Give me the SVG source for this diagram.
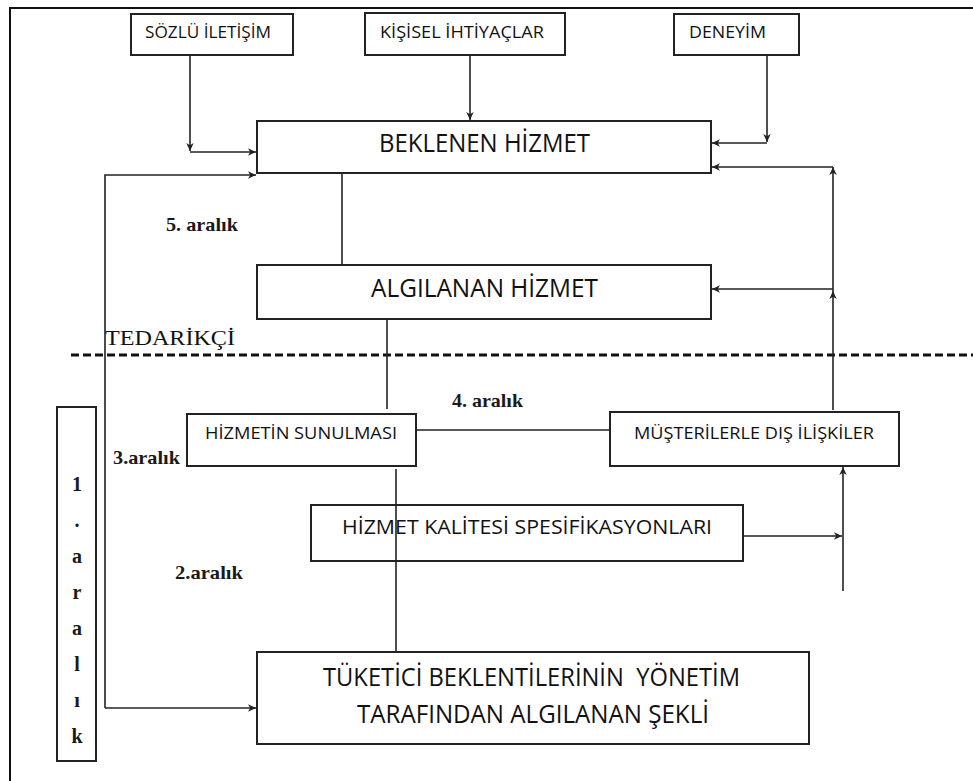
<svg xmlns="http://www.w3.org/2000/svg" width="973" height="781" viewBox="0 0 973 781">
  <style>
    .box { fill: none; stroke: #222; stroke-width: 2; }
    .lbl { font-family: "Open Sans", "Noto Sans", "DejaVu Sans", sans-serif; fill: #111; white-space: pre; }
    .serif { font-family: "Liberation Serif", "Times New Roman", serif; fill: #111; }
    .gap { font-family: "Liberation Serif", "Times New Roman", serif; font-weight: bold; fill: #1a1a1a; }
    .wire { fill: none; stroke: #222; stroke-width: 1.6; }
    .arr { marker-end: url(#head); }
  </style>
  <defs>
    <marker id="head" markerUnits="userSpaceOnUse" markerWidth="9" markerHeight="9" refX="8" refY="4.5" orient="auto">
      <path d="M0,0.8 L8,4.5 L0,8.2 L2.2,4.5 Z" fill="#222"/>
    </marker>
  </defs>

  <rect width="973" height="781" fill="#fff"/>

  <!-- page frame -->
  <path d="M10,781 V8 H973" fill="none" stroke="#111" stroke-width="2"/>

  <!-- supplier boundary -->
  <path d="M71,355 H973" fill="none" stroke="#111" stroke-width="3" stroke-dasharray="8 4"/>
  <text class="serif" x="105" y="345" font-size="22" textLength="130" lengthAdjust="spacingAndGlyphs">TEDARİKÇİ</text>

  <g id="sozlu-iletisim">
    <rect class="box" x="131" y="14" width="162" height="41"/>
    <text class="lbl" x="145" y="38" font-size="16" textLength="126" lengthAdjust="spacingAndGlyphs">SÖZLÜ İLETİŞİM</text>
  </g>
  <g id="kisisel-ihtiyaclar">
    <rect class="box" x="365" y="13" width="200" height="42"/>
    <text class="lbl" x="380" y="38" font-size="16" textLength="164" lengthAdjust="spacingAndGlyphs">KİŞİSEL İHTİYAÇLAR</text>
  </g>
  <g id="deneyim">
    <rect class="box" x="674" y="14" width="125" height="41"/>
    <text class="lbl" x="689" y="38" font-size="16" textLength="77" lengthAdjust="spacingAndGlyphs">DENEYİM</text>
  </g>
  <g id="beklenen-hizmet">
    <rect class="box" x="257" y="121" width="454" height="52"/>
    <text class="lbl" x="379" y="152" font-size="25" textLength="211" lengthAdjust="spacingAndGlyphs">BEKLENEN HİZMET</text>
  </g>
  <g id="algilanan-hizmet">
    <rect class="box" x="257" y="265" width="454" height="54"/>
    <text class="lbl" x="371" y="297" font-size="25" textLength="227" lengthAdjust="spacingAndGlyphs">ALGILANAN HİZMET</text>
  </g>
  <g id="hizmetin-sunulmasi">
    <rect class="box" x="187" y="414" width="229" height="52"/>
    <text class="lbl" x="205" y="439" font-size="16.5" textLength="192" lengthAdjust="spacingAndGlyphs">HİZMETİN SUNULMASI</text>
  </g>
  <g id="musterilerle-dis-iliskiler">
    <rect class="box" x="610" y="412" width="289" height="54"/>
    <text class="lbl" x="634" y="439" font-size="16.5" textLength="240" lengthAdjust="spacingAndGlyphs">MÜŞTERİLERLE DIŞ İLİŞKİLER</text>
  </g>
  <g id="hizmet-kalitesi">
    <rect class="box" x="311" y="505" width="432" height="56"/>
    <text class="lbl" x="342" y="534" font-size="19.5" textLength="370" lengthAdjust="spacingAndGlyphs">HİZMET KALİTESİ SPESİFİKASYONLARI</text>
  </g>
  <g id="tuketici-beklentileri">
    <rect class="box" x="257" y="652" width="552" height="92"/>
    <text class="lbl" x="323" y="686" font-size="25" textLength="417" lengthAdjust="spacingAndGlyphs">TÜKETİCİ BEKLENTİLERİNİN  YÖNETİM</text>
    <text class="lbl" x="357" y="723" font-size="25" textLength="352" lengthAdjust="spacingAndGlyphs">TARAFINDAN ALGILANAN ŞEKLİ</text>
  </g>
  <g id="aralik-1">
    <rect class="box" x="57" y="407" width="39" height="354"/>
    <g class="gap" font-size="20" text-anchor="middle">
      <text x="77" y="491">1</text>
      <text x="77" y="527">.</text>
      <text x="77" y="563">a</text>
      <text x="77" y="599">r</text>
      <text x="77" y="635">a</text>
      <text x="77" y="671">l</text>
      <text x="77" y="707">ı</text>
      <text x="77" y="743">k</text>
    </g>
  </g>

  <!-- gap labels -->
  <g id="gap-labels" class="gap" font-size="19">
    <text x="166" y="231" textLength="72" lengthAdjust="spacingAndGlyphs">5. aralık</text>
    <text x="452" y="407" textLength="71" lengthAdjust="spacingAndGlyphs">4. aralık</text>
    <text x="113" y="464" textLength="67" lengthAdjust="spacingAndGlyphs">3.aralık</text>
    <text x="175" y="579" textLength="68" lengthAdjust="spacingAndGlyphs">2.aralık</text>
  </g>

  <g id="connectors">
    <path class="wire arr" d="M190,55 V151"/>
    <path class="wire arr" d="M190,152 H256"/>
    <path class="wire arr" d="M470,55 V120"/>
    <path class="wire arr" d="M767,55 V142"/>
    <path class="wire arr" d="M767,143 H712"/>
    <path class="wire arr" d="M833,410 V291"/>
    <path class="wire arr" d="M833,291 V167"/>
    <path class="wire arr" d="M833,167 H712"/>
    <path class="wire arr" d="M833,289 H712"/>
    <path class="wire arr" d="M105,708 V175 H256"/>
    <path class="wire arr" d="M105,708 H256"/>
    <path class="wire" d="M342,173 V265"/>
    <path class="wire" d="M387,319 V409"/>
    <path class="wire" d="M416,430 H610"/>
    <path class="wire" d="M396,469 V652"/>
    <path class="wire arr" d="M743,536 H842"/>
    <path class="wire arr" d="M843,591 V467"/>
  </g>
</svg>
